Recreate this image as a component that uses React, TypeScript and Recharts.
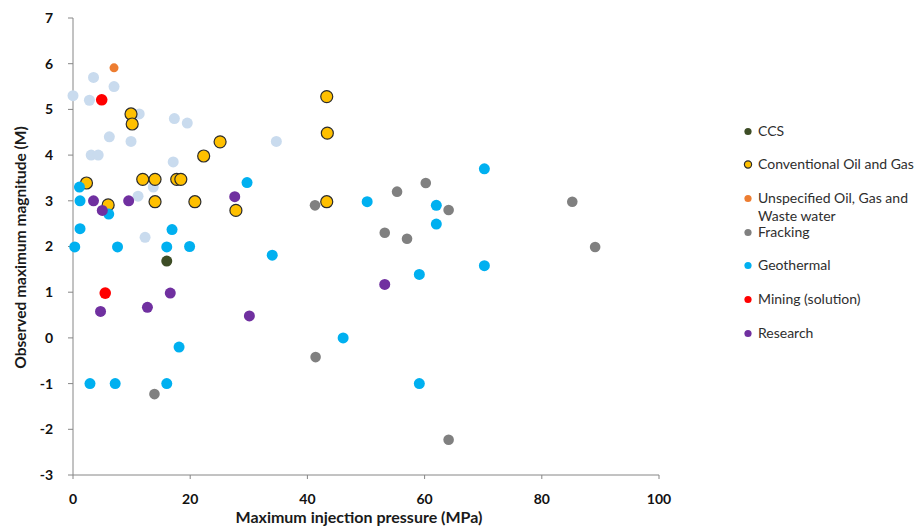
import React from 'react';
import { ScatterChart, Scatter, XAxis, YAxis } from 'recharts';

// values: x = max injection pressure (MPa), y = max magnitude (M)
const ccs = [{ x: 16.0, y: 1.68 }];

const conventional = [
    { x: 9.9, y: 4.9 }, { x: 10.1, y: 4.68 }, { x: 25.1, y: 4.29 }, { x: 22.3, y: 3.98 },
    { x: 2.3, y: 3.39 }, { x: 11.9, y: 3.47 }, { x: 14.0, y: 3.47 }, { x: 17.7, y: 3.47 },
    { x: 18.4, y: 3.47 }, { x: 6.0, y: 2.91 }, { x: 14.0, y: 2.98 }, { x: 20.8, y: 2.98 },
    { x: 27.8, y: 2.79 }, { x: 43.3, y: 5.28 }, { x: 43.4, y: 4.48 }, { x: 43.3, y: 2.98 },
];

const unspecified = [{ x: 7.0, y: 5.91 }];

const fracking = [
    { x: 41.3, y: 2.9 }, { x: 60.2, y: 3.39 }, { x: 55.3, y: 3.2 }, { x: 64.1, y: 2.8 },
    { x: 53.2, y: 2.3 }, { x: 57.0, y: 2.17 }, { x: 85.2, y: 2.98 }, { x: 89.1, y: 1.99 },
    { x: 41.4, y: -0.42 }, { x: 64.1, y: -2.23 }, { x: 13.9, y: -1.23 },
];

const geothermal = [
    { x: 1.1, y: 3.3 }, { x: 1.2, y: 3.0 }, { x: 6.1, y: 2.71 }, { x: 29.7, y: 3.4 },
    { x: 1.2, y: 2.39 }, { x: 16.9, y: 2.37 }, { x: 0.3, y: 1.99 }, { x: 7.6, y: 1.99 },
    { x: 16.0, y: 1.99 }, { x: 19.9, y: 2.0 }, { x: 34.0, y: 1.81 }, { x: 18.1, y: -0.2 },
    { x: 2.9, y: -1.0 }, { x: 7.2, y: -1.0 }, { x: 16.0, y: -1.0 }, { x: 70.2, y: 3.7 },
    { x: 50.2, y: 2.98 }, { x: 62.0, y: 2.9 }, { x: 62.0, y: 2.49 }, { x: 70.2, y: 1.58 },
    { x: 59.1, y: 1.39 }, { x: 46.1, y: 0.0 }, { x: 59.1, y: -1.0 },
];

const mining = [{ x: 4.9, y: 5.21 }, { x: 5.5, y: 0.98 }];

const research = [
    { x: 3.5, y: 3.0 }, { x: 5.0, y: 2.79 }, { x: 9.5, y: 3.0 }, { x: 27.6, y: 3.09 },
    { x: 4.7, y: 0.58 }, { x: 12.7, y: 0.67 }, { x: 16.6, y: 0.98 }, { x: 30.1, y: 0.48 },
    { x: 53.2, y: 1.17 },
];

// faded points left in the background of the original figure
const faded = [
    { x: 0.0, y: 5.3 }, { x: 2.8, y: 5.2 }, { x: 3.5, y: 5.7 }, { x: 7.0, y: 5.5 },
    { x: 11.3, y: 4.9 }, { x: 17.3, y: 4.8 }, { x: 19.5, y: 4.7 }, { x: 6.2, y: 4.4 },
    { x: 9.9, y: 4.3 }, { x: 3.1, y: 4.0 }, { x: 4.3, y: 4.0 }, { x: 17.1, y: 3.85 },
    { x: 34.7, y: 4.3 }, { x: 13.7, y: 3.3 }, { x: 11.1, y: 3.1 }, { x: 12.3, y: 2.2 },
];

const xTicks = [0, 20, 40, 60, 80, 100];
const yTicks = [-3, -2, -1, 0, 1, 2, 3, 4, 5, 6, 7];

const FONT = 'Lato, "Open Sans", sans-serif';

const series = [
    { key: 'faded', data: faded, fill: '#c9dbee', r: 5.5 },
    { key: 'fracking', data: fracking, fill: '#808080', r: 5.3 },
    { key: 'ccs', data: ccs, fill: '#3d4d26', r: 5.5 },
    { key: 'conv', data: conventional, fill: '#ffc000', stroke: '#2b2b2b', r: 6 },
    { key: 'unsp', data: unspecified, fill: '#ed7d31', r: 4.5 },
    { key: 'geo', data: geothermal, fill: '#00b0f0', r: 5.5 },
    { key: 'mining', data: mining, fill: '#ff0000', r: 5.8 },
    { key: 'research', data: research, fill: '#7030a0', r: 5.5 },
];

const legendItems = [
    { label: 'CCS', fill: '#3d4d26' },
    { label: 'Conventional Oil and Gas', fill: '#ffc000', stroke: '#2b2b2b' },
    { label: 'Unspecified Oil, Gas and\nWaste water', fill: '#ed7d31' },
    { label: 'Fracking', fill: '#808080' },
    { label: 'Geothermal', fill: '#00b0f0' },
    { label: 'Mining (solution)', fill: '#ff0000' },
    { label: 'Research', fill: '#7030a0' },
];

function ChartLegend() {
    return (
        <div style={{ position: 'absolute', left: 743, top: 121.7, width: 174,
            fontFamily: FONT, fontSize: 14, color: '#2e2e2e' }}>
            {legendItems.map((it) => (
                <div key={it.label} style={{ height: 33.7, display: 'flex', alignItems: 'flex-start' }}>
                    <svg width={15} height={18} style={{ flex: 'none' }}>
                        <circle cx={5} cy={9.5} r={3.6} fill={it.fill} stroke={it.stroke || 'none'} strokeWidth={1.2} />
                    </svg>
                    <span style={{ whiteSpace: 'pre', lineHeight: '18px' }}>{it.label}</span>
                </div>
            ))}
        </div>
    );
}

function renderYTitle(props: any) {
    const vb = props.viewBox;
    const cx = vb.x + 20;
    const cy = vb.y + vb.height / 2 + 1;
    return (
        <text x={cx} y={cy} transform={`rotate(-90, ${cx}, ${cy})`} textAnchor="middle" dominantBaseline="central"
            style={{ fontFamily: FONT, fontSize: 15.5, fontWeight: 'bold', fill: '#1a1a1a' }}>
            Observed maximum magnitude (M)
        </text>
    );
}

function renderXTitle(props: any) {
    const vb = props.viewBox;
    return (
        <text x={vb.x + vb.width / 2 - 7} y={vb.y + vb.height - 6} textAnchor="middle"
            style={{ fontFamily: FONT, fontSize: 16, fontWeight: 'bold', fill: '#1a1a1a' }}>
            Maximum injection pressure (MPa)
        </text>
    );
}

export default function App() {
    const tickStyle = { fill: '#111', fontSize: 14, fontWeight: 'bold', fontFamily: FONT };
    return (
        <div style={{ position: 'absolute', left: 0, top: 0, width: 917, height: 529, background: '#fff' }}>
            <ScatterChart width={917} height={529} margin={{ top: 18, right: 258, bottom: 0, left: 0 }}>
                <XAxis
                    type="number"
                    dataKey="x"
                    domain={[0, 100]}
                    ticks={xTicks}
                    height={54}
                    stroke="#868686"
                    tickSize={4}
                    tickMargin={15}
                    tick={tickStyle}
                    label={renderXTitle}
                />
                <YAxis
                    type="number"
                    dataKey="y"
                    domain={[-3, 7]}
                    ticks={yTicks}
                    width={73}
                    stroke="#868686"
                    tickSize={5}
                    tickMargin={15}
                    tick={tickStyle}
                    label={renderYTitle}
                />
                {series.map((s) => (
                    <Scatter
                        key={s.key}
                        data={s.data}
                        isAnimationActive={false}
                        legendType="none"
                        shape={(p: any) => (
                            <circle cx={p.cx} cy={p.cy} r={s.r} fill={s.fill}
                                stroke={s.stroke || 'none'} strokeWidth={1.2} />
                        )}
                    />
                ))}
            </ScatterChart>
            <ChartLegend />
        </div>
    );
}
